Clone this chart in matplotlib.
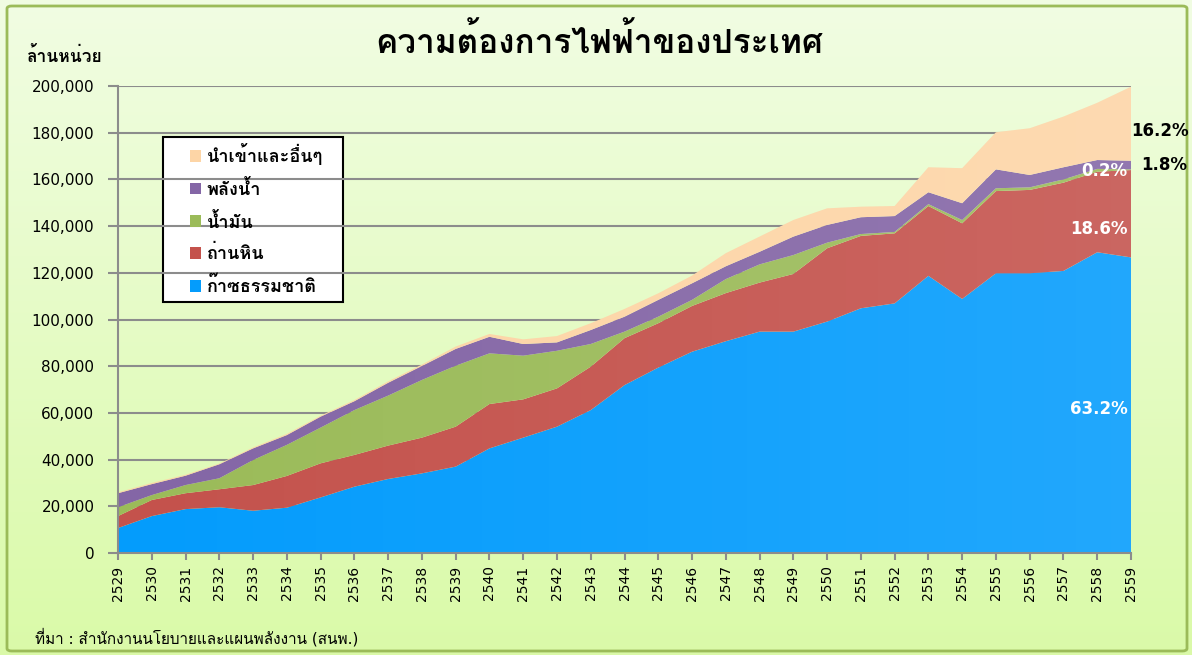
import numpy as np
import matplotlib
matplotlib.use('Agg')
import matplotlib.pyplot as plt
from matplotlib import font_manager
from matplotlib.ft2font import FT2Font
from matplotlib.patches import Patch, FancyBboxPatch, Rectangle, Polygon
from matplotlib.ticker import FuncFormatter

# data (ล้านหน่วย)
years = list(range(2529, 2560))
gas = [10700, 15800, 18800, 19600, 18100, 19400, 23800, 28400, 31700, 34100,
       37000, 44800, 49400, 54100, 61200, 71900, 79400, 86200, 90700, 94800,
       94800, 99100, 104800, 106900, 118700, 108800, 119800, 119800, 120800, 128800,
       126600]
coal = [5100, 6900, 6800, 7700, 11000, 13600, 14600, 13600, 14300, 15300,
        17100, 19000, 16400, 16400, 18600, 20100, 19000, 19600, 20600, 21000,
        24700, 31400, 31000, 30000, 29900, 32400, 35200, 35700, 37800, 34500,
        37400]
oil = [3800, 2100, 3500, 4700, 10700, 13300, 15300, 19200, 21400, 24700,
       26100, 21700, 18700, 16100, 9700, 2800, 2800, 2600, 6000, 7800,
       8100, 2400, 800, 600, 800, 1400, 1200, 1100, 1400, 1200,
       300]
hydro = [6000, 4700, 4000, 6000, 5000, 4200, 4700, 3800, 5500, 6000,
         7200, 7100, 5000, 3600, 6000, 6400, 7200, 7100, 5500, 5400,
         7900, 7600, 7200, 6800, 5100, 7200, 8100, 5300, 5200, 3800,
         3700]
imports = [400, 500, 400, 300, 400, 500, 400, 500, 600, 600,
           1000, 1200, 2000, 2700, 2900, 3300, 2800, 3300, 5600, 6500,
           7100, 7100, 4500, 4300, 10700, 15000, 15900, 20000, 21700, 24500,
           31700]

labels = ['ก๊าซธรรมชาติ', 'ถ่านหิน', 'น้ำมัน', 'พลังน้ำ', 'นำเข้าและอื่นๆ']
colors = ['#049cfc', '#c4524c', '#9bbb59', '#8466a6', '#fdd5a6']
pct_labels = ['63.2%', '18.6%', '0.2%', '1.8%', '16.2%']


# find a font that has Thai glyphs
def find_thai_font():
    for f in font_manager.fontManager.ttflist:
        try:
            if FT2Font(f.fname).get_char_index(0x0E01):
                return f.name
        except Exception:
            pass
    return 'DejaVu Sans'


thai = find_thai_font()
plt.rcParams['font.family'] = ['DejaVu Sans', thai]

fig = plt.figure(figsize=(11.92, 6.55), dpi=100)

# background gradient
bg = fig.add_axes([0, 0, 1, 1], zorder=-10)
grad = np.linspace(0, 1, 256).reshape(-1, 1)
top = np.array([0.945, 0.992, 0.890])
bot = np.array([0.855, 0.980, 0.660])
img = top + (bot - top) * grad[:, :, None]
bg.imshow(img.reshape(256, 1, 3), aspect='auto', extent=[0, 1, 0, 1])
bg.set_xlim(0, 1)
bg.set_ylim(0, 1)
bg.axis('off')
bg.add_patch(FancyBboxPatch((7 / 1192, 4 / 655), 1180 / 1192, 645 / 655,
                            boxstyle='round,pad=0,rounding_size=0.004',
                            fill=False, edgecolor='#9bbb59', linewidth=2,
                            transform=bg.transAxes))

ax = fig.add_axes([118 / 1192, 1 - 553 / 655, 1013 / 1192, 467 / 655])
ax.patch.set_alpha(0)

ax.stackplot(years, gas, coal, oil, hydro, imports, colors=colors,
             labels=labels, linewidth=0, zorder=2)

# soft light sheen towards the right like the original
total = np.sum([gas, coal, oil, hydro, imports], axis=0)
clip = Polygon(list(zip(years, total)) + [(years[-1], 0), (years[0], 0)],
               closed=True, facecolor='none', edgecolor='none', transform=ax.transData)
ax.add_patch(clip)
sheen = np.zeros((2, 256, 4))
sheen[:, :, :3] = 1
sheen[:, :, 3] = np.linspace(0, 0.12, 256)
im = ax.imshow(sheen, extent=[years[0], years[-1], 0, 200000], aspect='auto', zorder=2.5)
im.set_clip_path(clip)

ax.set_xlim(2529, 2559)
ax.set_ylim(0, 200000)
ax.set_xticks(years)
ax.set_xticklabels([str(y) for y in years], rotation=90, fontsize=10)
ax.set_yticks(range(0, 200001, 20000))
ax.yaxis.set_major_formatter(FuncFormatter(lambda v, p: f'{int(v):,}'))
ax.tick_params(axis='y', labelsize=11, length=7, color='#8c8c8c', width=1.5, pad=10)
ax.tick_params(axis='x', length=5, color='#8c8c8c', width=1.5, pad=4)
ax.grid(axis='y', color='#8c8c8c', linewidth=1.5, zorder=1)
ax.set_axisbelow(True)
for s in ['top', 'right']:
    ax.spines[s].set_visible(False)
for s in ['left', 'bottom']:
    ax.spines[s].set_color('#8c8c8c')
    ax.spines[s].set_linewidth(1.5)

# legend box drawn by hand, legend entries inside it
bg.add_patch(Rectangle((163 / 1192, 1 - 302 / 655), 180 / 1192, 165 / 655,
                       facecolor='white', edgecolor='black', linewidth=1.5,
                       transform=bg.transAxes, zorder=5))
handles = [Patch(facecolor=c, edgecolor='none') for c in colors][::-1]
leg = fig.legend(handles, labels[::-1], loc='upper left',
                 bbox_to_anchor=(185 / 1192, 1 - 139 / 655), borderaxespad=0,
                 frameon=False, prop={'size': 13, 'weight': 'bold'},
                 handlelength=0.6, handleheight=0.6, handletextpad=0.3,
                 labelspacing=0.75, borderpad=0.3)
leg.set_zorder(6)

# share labels for 2559
ax.text(2558.9, 61700, pct_labels[0], color='white', fontsize=12, weight='bold', ha='right', va='center', zorder=4)
ax.text(2558.9, 138800, pct_labels[1], color='white', fontsize=12, weight='bold', ha='right', va='center', zorder=4)
ax.text(2558.9, 163600, pct_labels[2], color='white', fontsize=12, weight='bold', ha='right', va='center', zorder=4)
ax.text(2559.3, 166200, pct_labels[3], color='black', fontsize=12, weight='bold', ha='left', va='center', clip_on=False)
ax.text(2559.0, 180700, pct_labels[4], color='black', fontsize=12, weight='bold', ha='left', va='center', clip_on=False)

fig.text(0.503, 1 - 42 / 655, 'ความต้องการไฟฟ้าของประเทศ', ha='center', va='center',
         fontsize=24, weight='bold')
fig.text(27 / 1192, 1 - 57 / 655, 'ล้านหน่วย', ha='left', va='center',
         fontsize=12.5, weight='bold')
fig.text(35 / 1192, 1 - 637 / 655, 'ที่มา : สำนักงานนโยบายและแผนพลังงาน (สนพ.)',
         ha='left', va='center', fontsize=11)

plt.savefig('out.png', dpi=100)
